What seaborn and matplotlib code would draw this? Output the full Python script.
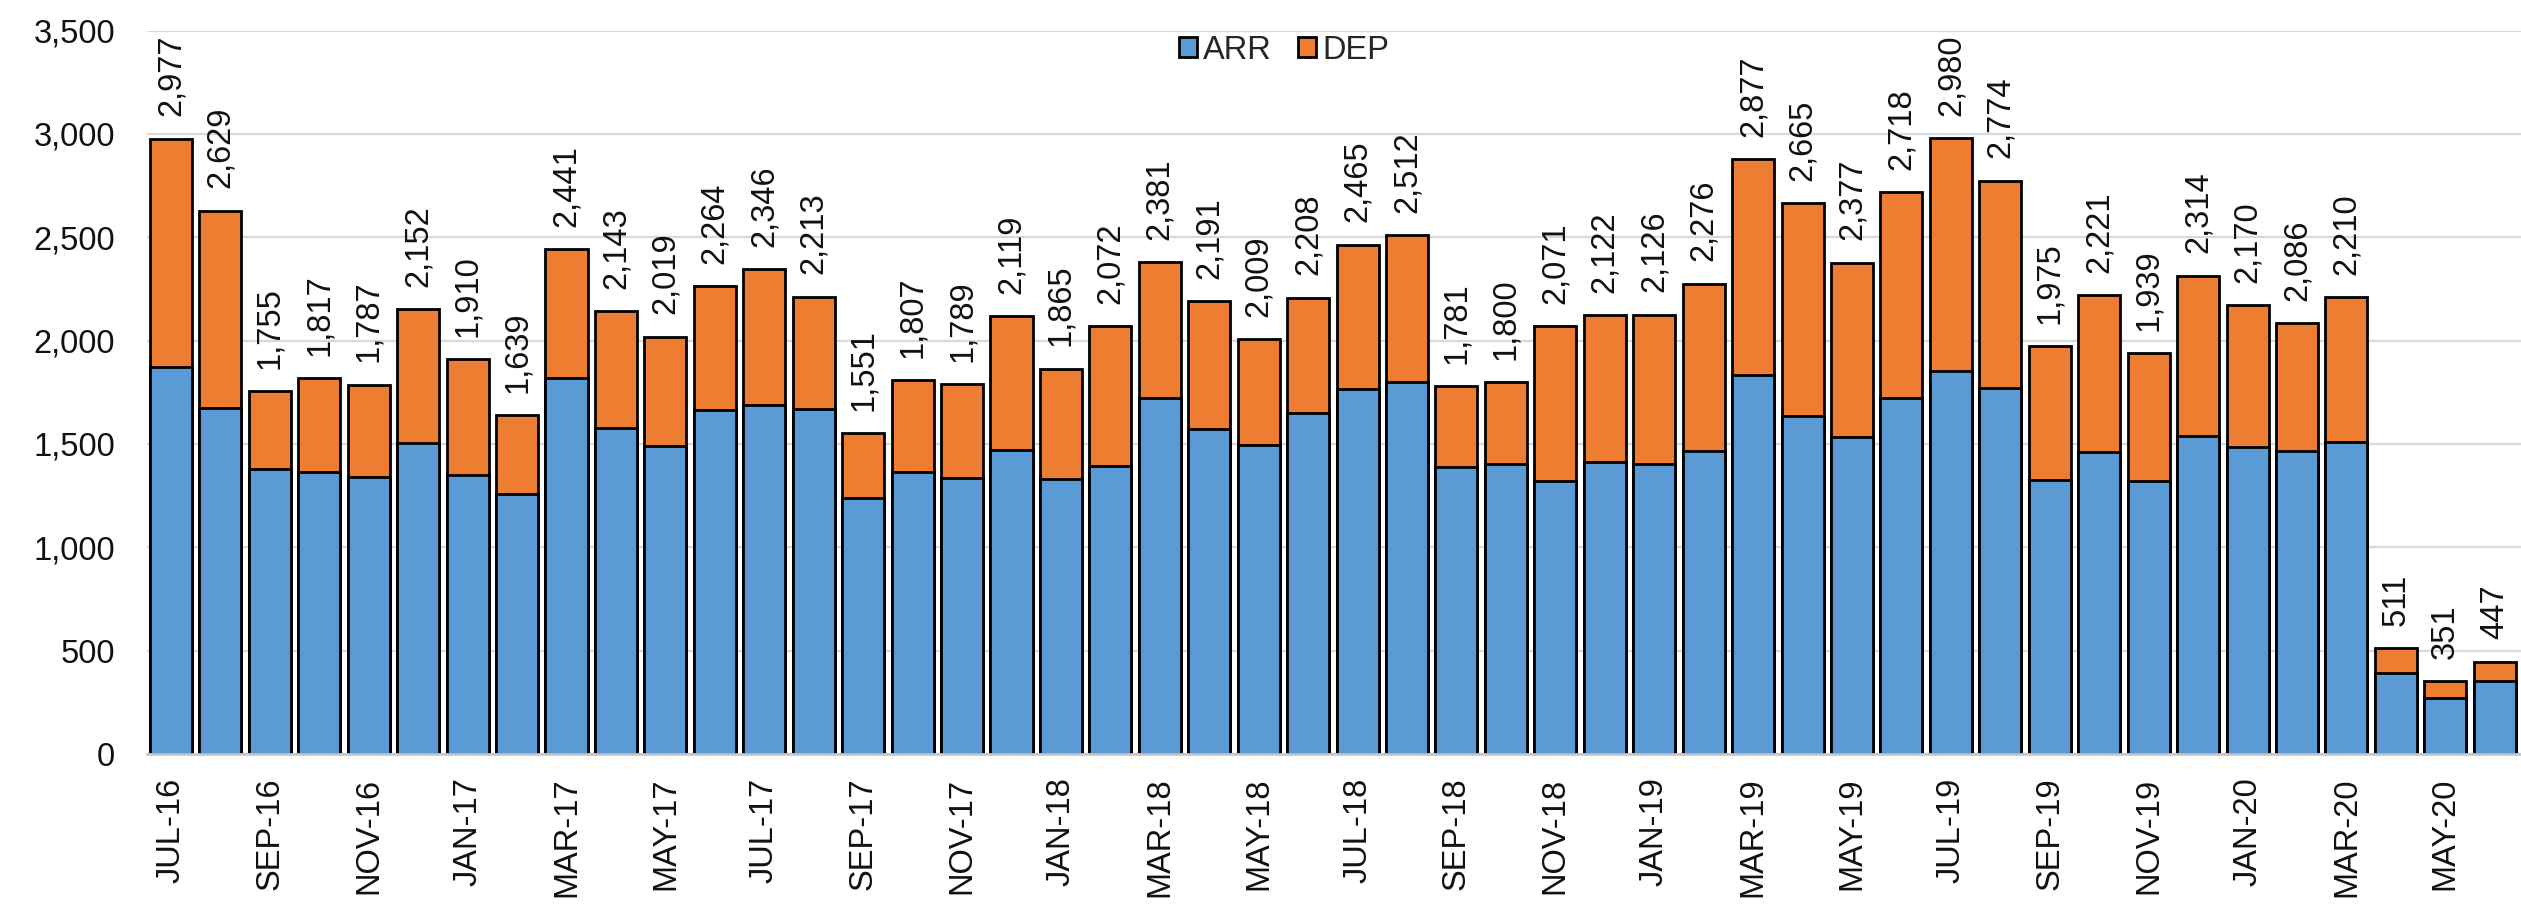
import pandas as pd
import matplotlib.pyplot as plt
import seaborn as sns

months = ["JUL-16", "AUG-16", "SEP-16", "OCT-16", "NOV-16", "DEC-16",
          "JAN-17", "FEB-17", "MAR-17", "APR-17", "MAY-17", "JUN-17",
          "JUL-17", "AUG-17", "SEP-17", "OCT-17", "NOV-17", "DEC-17",
          "JAN-18", "FEB-18", "MAR-18", "APR-18", "MAY-18", "JUN-18",
          "JUL-18", "AUG-18", "SEP-18", "OCT-18", "NOV-18", "DEC-18",
          "JAN-19", "FEB-19", "MAR-19", "APR-19", "MAY-19", "JUN-19",
          "JUL-19", "AUG-19", "SEP-19", "OCT-19", "NOV-19", "DEC-19",
          "JAN-20", "FEB-20", "MAR-20", "APR-20", "MAY-20", "JUN-20"]

totals = [2977, 2629, 1755, 1817, 1787, 2152, 1910, 1639, 2441, 2143, 2019, 2264,
          2346, 2213, 1551, 1807, 1789, 2119, 1865, 2072, 2381, 2191, 2009, 2208,
          2465, 2512, 1781, 1800, 2071, 2122, 2126, 2276, 2877, 2665, 2377, 2718,
          2980, 2774, 1975, 2221, 1939, 2314, 2170, 2086, 2210, 511, 351, 447]

# arrivals (estimates)
arr = [1871, 1674, 1380, 1363, 1340, 1504, 1351, 1258, 1821, 1577, 1490, 1665,
       1688, 1671, 1240, 1363, 1334, 1473, 1332, 1391, 1724, 1572, 1495, 1648,
       1764, 1798, 1388, 1405, 1323, 1411, 1405, 1467, 1832, 1637, 1535, 1722,
       1855, 1770, 1326, 1459, 1320, 1538, 1484, 1467, 1507, 390, 271, 351]

df = pd.DataFrame({"month": months, "ARR": arr, "total": totals})
df["DEP"] = df["total"] - df["ARR"]

blue = "#5B9BD5"
orange = "#ED7D31"
fs = 23.5

sns.set_style("white")
plt.rcParams['font.family'] = ['Liberation Sans', 'DejaVu Sans']

fig = plt.figure(figsize=(25.21, 9.16), dpi=100)
ax = fig.add_axes([0.0583, 0.1769, 0.9417, 0.7897])

# orange = full stack, blue drawn over it from zero
sns.barplot(data=df, x="month", y="total", color=orange, width=0.85,
            edgecolor="black", linewidth=2.0, saturation=1, label="DEP", ax=ax)
sns.barplot(data=df, x="month", y="ARR", color=blue, width=0.85,
            edgecolor="black", linewidth=2.0, saturation=1, label="ARR", ax=ax)

for i, t in enumerate(totals):
    ax.annotate(f"{t:,}", (i, t), xytext=(0, 16), textcoords="offset points",
                rotation=90, ha="center", va="bottom", fontsize=fs, color="#111111")

ax.set_xlim(-0.485, 47.53)
ax.set_ylim(0, 3500)
ax.set_yticks(range(0, 3501, 500))
ax.set_yticklabels([f"{v:,}" for v in range(0, 3501, 500)])
ax.set_xticks(range(0, 48, 2))
ax.set_xticklabels(months[::2], rotation=90)
ax.tick_params(axis="both", length=0, labelsize=fs, labelcolor="#111111")
ax.tick_params(axis="y", pad=23)
ax.tick_params(axis="x", pad=17)
ax.set_xlabel("")
ax.set_ylabel("")

ax.yaxis.grid(True, color="#d9d9d9", linewidth=1.6)
ax.set_axisbelow(True)
for s in ["top", "right", "left"]:
    ax.spines[s].set_visible(False)
ax.spines["bottom"].set_color("#c8c8c8")
ax.spines["bottom"].set_linewidth(2)

handles, labels = ax.get_legend_handles_labels()
order = [labels.index("ARR"), labels.index("DEP")]
ax.legend([handles[k] for k in order], [labels[k] for k in order],
          loc="center", bbox_to_anchor=(0.479, 0.973), ncol=2, frameon=False,
          fontsize=fs, handlelength=0.55, handleheight=0.55, handletextpad=0.2,
          columnspacing=0.8, borderaxespad=0)

fig.savefig("out.png", dpi=100)
